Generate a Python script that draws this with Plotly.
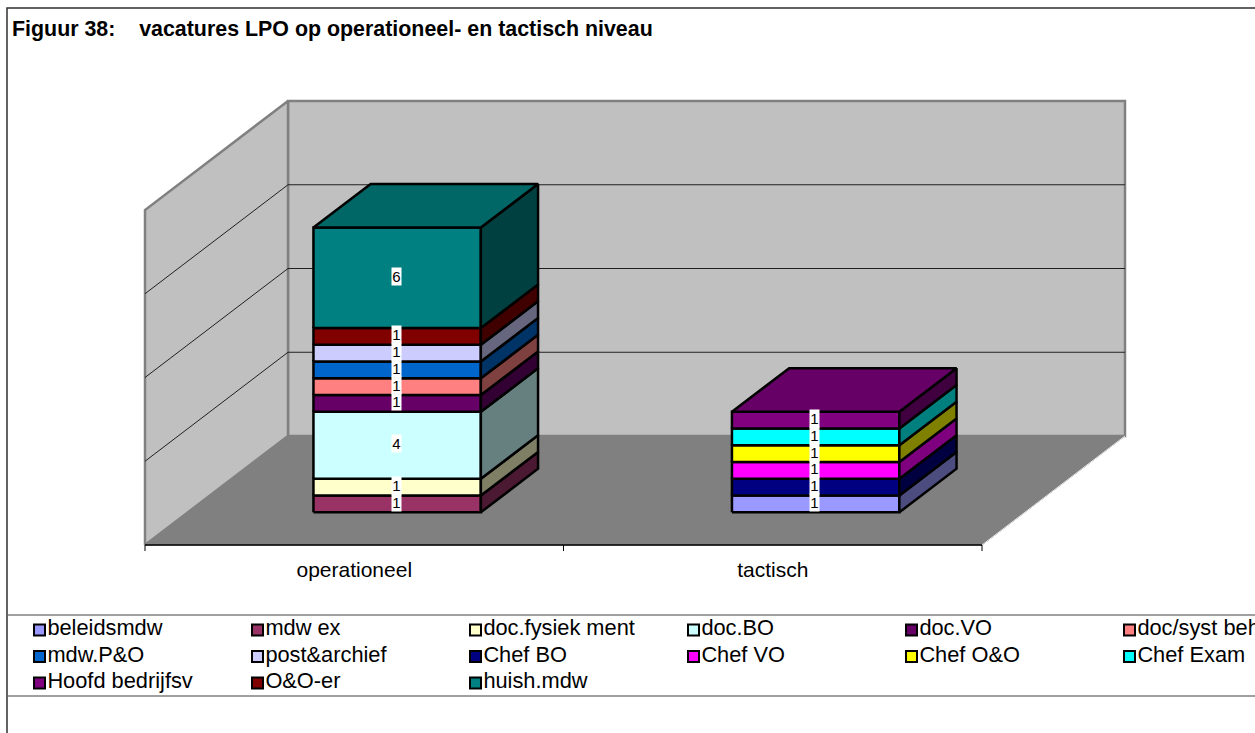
import plotly.graph_objects as go

# waarden per reeks, van onder naar boven gestapeld
categorieen = ['operationeel', 'tactisch']
reeksen = ['beleidsmdw', 'mdw ex', 'doc.fysiek ment', 'doc.BO', 'doc.VO', 'doc/syst beh',
           'mdw.P&O', 'post&archief', 'Chef BO', 'Chef VO', 'Chef O&O', 'Chef Exam',
           'Hoofd bedrijfsv', 'O&O-er', 'huish.mdw']
operationeel = [0, 1, 1, 4, 1, 1, 1, 1, 0, 0, 0, 0, 0, 1, 6]
tactisch = [1, 0, 0, 0, 0, 0, 0, 0, 1, 1, 1, 1, 1, 0, 0]
kleuren = ['#9999FF', '#993366', '#FFFFCC', '#CCFFFF', '#660066', '#FF8080',
           '#0066CC', '#CCCCFF', '#000080', '#FF00FF', '#FFFF00', '#00FFFF',
           '#800080', '#800000', '#008080']
y_ticks = [5, 10, 15]
y_max = 20

# schaal in pixels per aseenheid en schuine projectie van de diepte
PX_X = 418.5
PX_Y = 16.75
DX = 143 / PX_X
DY = 109 / PX_Y
RAND = 8  # ruimte rond de grafiek zodat randen en ticks niet wegvallen
W = 1255
H = 733


def proj(x, v, d):
    return x + DX * d, v + DY * d


def donker(kleur, f):
    r, g, b = [int(kleur[i:i + 2], 16) for i in (1, 3, 5)]
    return 'rgb(%d,%d,%d)' % (r * f, g * f, b * f)


def vlak(fig, hoeken, kleur, lijn='black', dikte=2.5, naam=''):
    xs = [p[0] for p in hoeken] + [hoeken[0][0]]
    ys = [p[1] for p in hoeken] + [hoeken[0][1]]
    fig.add_trace(go.Scatter(x=xs, y=ys, mode='lines', fill='toself', fillcolor=kleur,
                             line=dict(color=lijn, width=dikte), name=naam,
                             hoverinfo='name' if naam else 'skip', showlegend=False))


def lijn(fig, hoeken, kleur='black', dikte=1):
    fig.add_trace(go.Scatter(x=[p[0] for p in hoeken], y=[p[1] for p in hoeken], mode='lines',
                             line=dict(color=kleur, width=dikte),
                             hoverinfo='skip', showlegend=False))


fig = go.Figure()

# wanden en vloer
vlak(fig, [proj(0, 0, 1), proj(2, 0, 1), proj(2, y_max, 1), proj(0, y_max, 1)], '#C0C0C0', '#808080', 2.5)
vlak(fig, [proj(0, 0, 0), proj(0, 0, 1), proj(0, y_max, 1), proj(0, y_max, 0)], '#C0C0C0', '#808080', 2.5)
vlak(fig, [proj(0, 0, 0), proj(2, 0, 0), proj(2, 0, 1), proj(0, 0, 1)], '#808080', '#808080', 1)
for t in y_ticks:
    lijn(fig, [proj(0, t, 0), proj(0, t, 1), proj(2, t, 1)], '#202020', 1)
lijn(fig, [proj(2, 0, 0), proj(2, 0, 1)], '#E8E8E8', 1)
lijn(fig, [proj(0, 0, 0), proj(2, 0, 0)], 'black', 1.5)
for t in [0, 1, 2]:
    lijn(fig, [(t, 0), (t, -0.36)], 'black', 1)

# gestapelde balken
annotaties = []
for i, waarden in enumerate([operationeel, tactisch]):
    x0, x1 = i + 0.3, i + 0.7
    d0, d1 = 0.3, 0.7
    basis = 0
    laatste = None
    for naam, v, kleur in zip(reeksen, waarden, kleuren):
        if v == 0:
            continue
        top = basis + v
        vlak(fig, [proj(x0, basis, d0), proj(x1, basis, d0), proj(x1, top, d0), proj(x0, top, d0)], kleur, naam=naam)
        vlak(fig, [proj(x1, basis, d0), proj(x1, basis, d1), proj(x1, top, d1), proj(x1, top, d0)],
             donker(kleur, 0.5), naam=naam)
        lx, ly = proj((x0 + x1) / 2, basis + v / 2, d0)
        annotaties.append(dict(x=lx, y=ly, xref='x', yref='y', text=str(v), showarrow=False, bgcolor='white',
                               width=9, height=17, borderpad=0, xshift=-0.7, yshift=1.5,
                               font=dict(size=15, color='black')))
        basis = top
        laatste = kleur
    vlak(fig, [proj(x0, basis, d0), proj(x1, basis, d0), proj(x1, basis, d1), proj(x0, basis, d1)],
         donker(laatste, 0.8))

# legenda: zes kolommen, loopt rechts van het beeld af
kol = [i % 6 for i in range(len(reeksen))]
rij = [i // 6 for i in range(len(reeksen))]
fig.add_trace(go.Scatter(x=[39.5 + 218 * k for k in kol], y=[630 + 26.5 * r for r in rij],
                         xaxis='x2', yaxis='y2', mode='markers+text', text=reeksen,
                         textposition='middle right', textfont=dict(size=21.8, color='black'),
                         marker=dict(symbol='square', size=11, color=kleuren, line=dict(color='black', width=2)),
                         hoverinfo='text', showlegend=False, cliponaxis=False))

# kaders
fig.add_trace(go.Scatter(x=[7, 7, W], y=[H, 8, 8], xaxis='x2', yaxis='y2', mode='lines',
                         line=dict(color='#303030', width=1.5), hoverinfo='skip', showlegend=False))
for y in [615, 696]:
    fig.add_trace(go.Scatter(x=[8, W], y=[y, y], xaxis='x2', yaxis='y2', mode='lines',
                             line=dict(color='#808080', width=1.5), hoverinfo='skip', showlegend=False))

fig.update_layout(
    width=W, height=H,
    margin=dict(l=0, r=0, t=0, b=0),
    autosize=False,
    paper_bgcolor='white',
    plot_bgcolor='rgba(0,0,0,0)',
    font=dict(family='Liberation Sans, Arial, sans-serif', color='black'),
    title=dict(text='<b>Figuur 38:\u00a0\u00a0\u00a0\u00a0vacatures LPO op operationeel- en tactisch niveau</b>',
               x=12 / W, xanchor='left', xref='paper', y=1 - 29 / H, yanchor='middle', yref='paper',
               font=dict(size=21.4, color='black')),
    annotations=annotaties,
    xaxis=dict(domain=[(145 - RAND) / W, (1125 + RAND) / W], range=[-RAND / PX_X, 2 + DX + RAND / PX_X],
               showgrid=False, zeroline=False, tickmode='array', tickvals=[0.5, 1.5], ticktext=categorieen,
               ticks='', showline=False, tickfont=dict(size=21, color='black'), ticklabelstandoff=2),
    yaxis=dict(domain=[1 - (545 + RAND) / H, 1 - (101 - RAND) / H],
               range=[-RAND / PX_Y, y_max + DY + RAND / PX_Y], visible=False),
    xaxis2=dict(domain=[0, 1], range=[0, W], visible=False, anchor='y2'),
    yaxis2=dict(domain=[0, 1], range=[H, 0], visible=False, anchor='x2'),
)

fig.write_html("out.html", config=dict(displayModeBar=False), post_script="document.body.style.margin='0';")
